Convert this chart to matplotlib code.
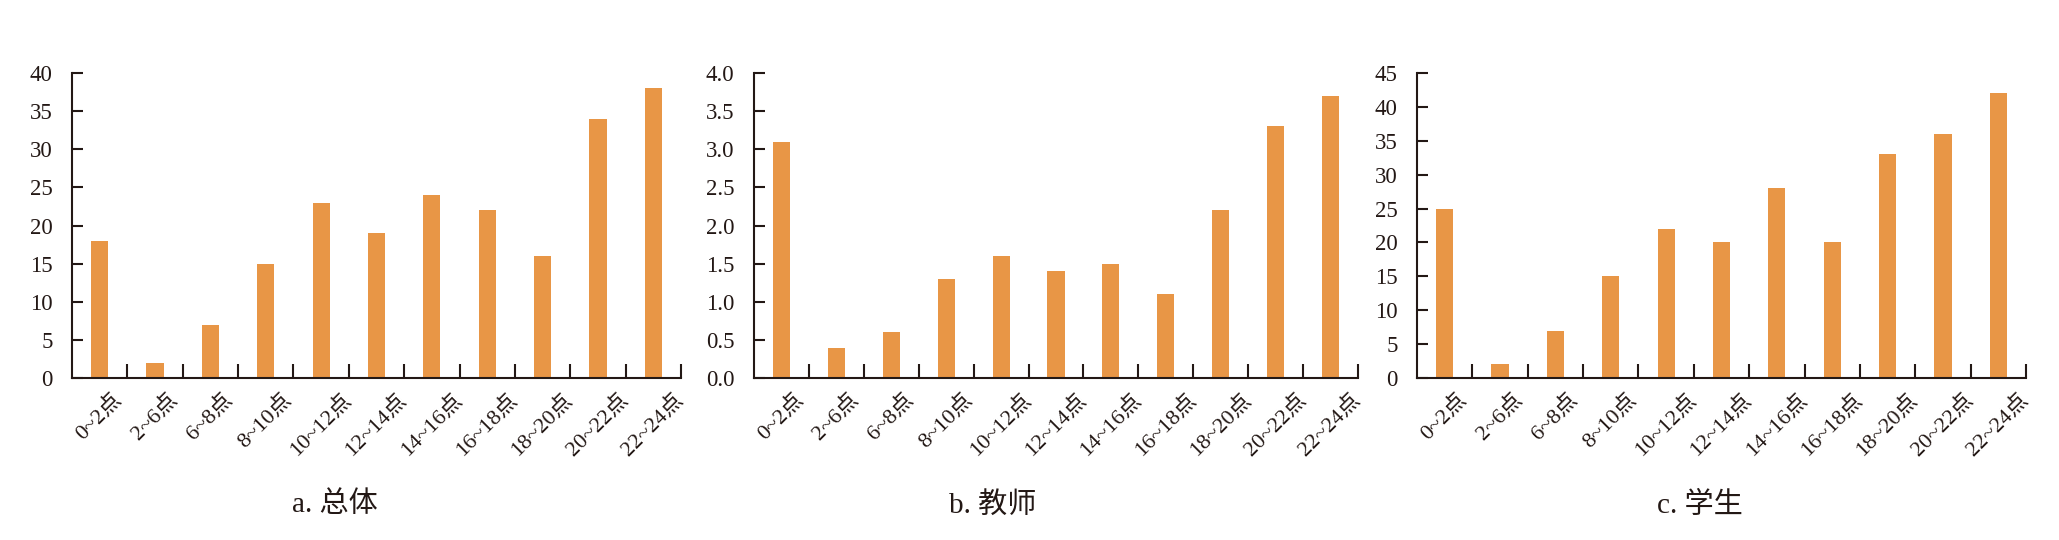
import numpy as np
import matplotlib
matplotlib.use("Agg")
import matplotlib.pyplot as plt
from matplotlib.ticker import FixedLocator, FormatStrFormatter, MultipleLocator

plt.rcParams["font.family"] = ["Liberation Serif", "Noto Sans CJK SC", "DejaVu Sans"]

hours = ["0~2点", "2~6点", "6~8点", "8~10点", "10~12点", "12~14点",
         "14~16点", "16~18点", "18~20点", "20~22点", "22~24点"]
total = [18, 2, 7, 15, 23, 19, 24, 22, 16, 34, 38]
teacher = [3.1, 0.4, 0.6, 1.3, 1.6, 1.4, 1.5, 1.1, 2.2, 3.3, 3.7]
student = [25, 2, 7, 15, 22, 20, 28, 20, 33, 36, 42]

titles = ["a. 总体", "b. 教师", "c. 学生"]
ylims = [(40, 5), (4.0, 0.5), (45, 5)]

BAR = "#E89646"
INK = "#231815"

fig = plt.figure(figsize=(20.59, 5.40), dpi=100)

panels = [
    (72, 681, total, "%d"),
    (754, 1358, teacher, "%.1f"),
    (1417, 2026, student, "%d"),
]
title_x = [335, 993, 1700]

x = np.arange(len(hours))
for i, (x0, x1, values, fmt) in enumerate(panels):
    ax = fig.add_axes([x0 / 2059, 1 - 378 / 540, (x1 - x0) / 2059, (378 - 73) / 540])
    ax.bar(x, values, width=0.31, color=BAR, linewidth=0)
    ymax, step = ylims[i]
    ax.set_ylim(0, ymax)
    ax.set_xlim(-0.5, len(hours) - 0.5)
    ax.yaxis.set_major_locator(MultipleLocator(step))
    ax.yaxis.set_major_formatter(FormatStrFormatter(fmt))

    ax.set_xticks(x)
    ax.set_xticklabels(hours, rotation=45, ha="center")
    ax.xaxis.set_minor_locator(FixedLocator(np.arange(0.5, len(hours), 1.0)))
    ax.tick_params(axis="x", which="major", length=0, pad=9, labelsize=16, colors=INK)
    ax.tick_params(axis="x", which="minor", direction="in", length=10, width=1.5, color=INK)
    ax.tick_params(axis="y", direction="in", length=8, width=1.5, pad=14,
                   labelsize=16.5, colors=INK)

    for side in ["top", "right"]:
        ax.spines[side].set_visible(False)
    for side in ["left", "bottom"]:
        ax.spines[side].set_linewidth(1.5)
        ax.spines[side].set_color(INK)

    fig.text(title_x[i] / 2059, 1 - 505 / 540, titles[i], ha="center", va="center",
             fontsize=21, color=INK)

fig.savefig("out.png", dpi=100)
